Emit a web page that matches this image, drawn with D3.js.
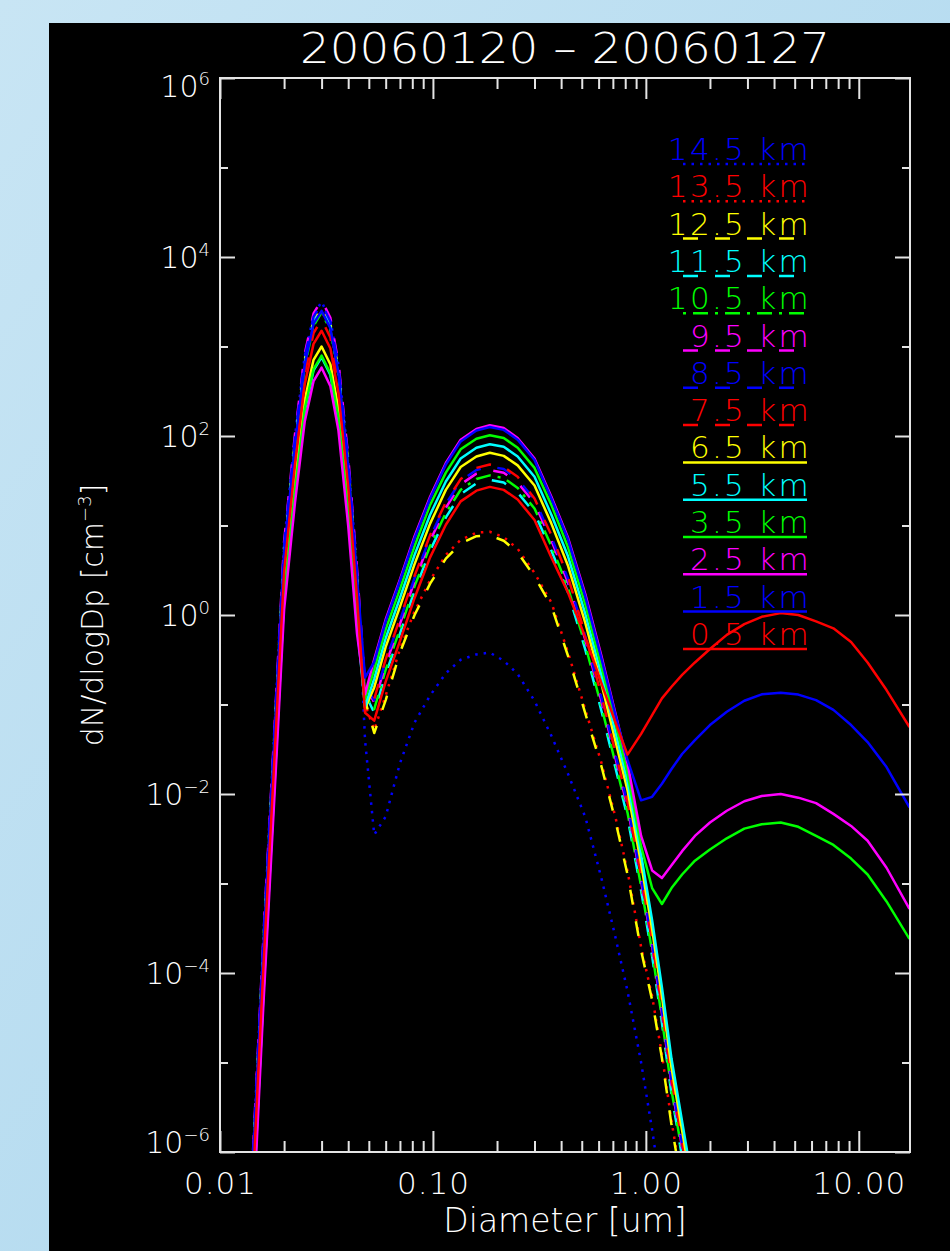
<!DOCTYPE html>
<html>
<head>
<meta charset="utf-8">
<script src="https://cdn.jsdelivr.net/npm/d3@7"></script>
<style>
html, body { margin: 0; padding: 0; background: #bcdff1; }
svg { display: block; }
text { font-family: "DejaVu Sans", sans-serif; font-weight: 200; fill: #fff; }
</style>
</head>
<body>
<div id="chart"></div>
<script>
// diameter bins [um]
const diam = [0.0143, 0.016, 0.018, 0.020, 0.0225, 0.025, 0.0275, 0.030, 0.033, 0.036, 0.040, 0.044, 0.048,
    0.053, 0.060, 0.070, 0.082, 0.097, 0.115, 0.135, 0.16, 0.185, 0.215, 0.25, 0.30, 0.36, 0.43, 0.52, 0.62,
    0.72, 0.82, 0.95, 1.07, 1.19, 1.32, 1.48, 1.7, 2.0, 2.4, 2.9, 3.5, 4.3, 5.2, 6.3, 7.6, 9.2, 11, 13.5, 17.3];

// dN/dlogDp [cm-3] per altitude
const km14_5 = [1.0e-6, 2.5e-4, 0.050, 6.3, 100, 790, 2240, 3160, 2000, 630, 56, 3.2, 0.040, 3.5e-3, 5.6e-3,
    0.022, 0.063, 0.126, 0.224, 0.316, 0.363, 0.38, 0.309, 0.219, 0.110, 0.0447, 0.017, 5.5e-3, 1.12e-3,
    2.5e-4, 6.3e-5, 1.0e-5, 1.78e-6, 3.2e-7];
const km13_5 = [7.9e-7, 2.0e-4, 0.040, 5.0, 79, 630, 1780, 2510, 1580, 500, 45, 2.5, 0.10, 0.052, 0.126,
    0.417, 1.1, 2.45, 4.68, 6.92, 8.32, 8.51, 7.41, 5.5, 2.95, 1.38, 0.389, 0.087, 0.0219, 5.5e-3, 1.38e-3,
    1.95e-4, 5.5e-5, 1.23e-5, 2.2e-6, 4.4e-7];
const km12_5 = [8.9e-7, 2.2e-4, 0.045, 5.6, 89, 710, 2000, 2820, 1780, 560, 50, 2.8, 0.112, 0.048, 0.112,
    0.38, 1.0, 2.24, 4.27, 6.31, 7.59, 7.76, 6.76, 5.01, 2.69, 1.26, 0.355, 0.079, 0.020, 5.0e-3, 1.26e-3,
    1.78e-4, 5.0e-5, 1.12e-5, 2.0e-6, 4.0e-7];
const km11_5 = [8.3e-7, 2.1e-4, 0.042, 5.2, 83, 660, 1860, 2630, 1660, 525, 47, 2.6, 0.132, 0.081, 0.219,
    0.62, 1.86, 5.25, 12.3, 22.4, 29.5, 32.4, 30.2, 23.4, 13.8, 5.25, 1.82, 0.407, 0.083, 0.0195, 5.5e-3,
    8.3e-4, 1.55e-4, 2.75e-5, 4.4e-6, 8.7e-7, 1.2e-7];
const km10_5 = [7.6e-7, 1.9e-4, 0.038, 4.8, 76, 600, 1700, 2400, 1510, 480, 43, 2.4, 0.126, 0.089, 0.245,
    0.69, 2.1, 5.9, 13.8, 25.1, 33.1, 36.3, 33.9, 26.3, 15.5, 5.9, 2.04, 0.457, 0.093, 0.0219, 6.2e-3,
    9.3e-4, 1.74e-4, 3.1e-5, 4.9e-6, 9.8e-7, 1.4e-7];
const km9_5 = [1.05e-6, 2.6e-4, 0.052, 6.6, 105, 830, 2340, 3310, 2090, 660, 59, 3.3, 0.166, 0.105, 0.28,
    0.79, 2.4, 6.8, 15.8, 28.8, 38.0, 41.7, 38.9, 30.2, 17.8, 6.8, 2.34, 0.525, 0.107, 0.0251, 7.1e-3,
    1.07e-3, 2.0e-4, 3.5e-5, 5.6e-6, 1.12e-6, 1.6e-7];
const km8_5 = [9.5e-7, 2.4e-4, 0.048, 6.0, 95, 760, 2140, 3020, 1900, 600, 54, 3.0, 0.158, 0.112, 0.31,
    0.87, 2.6, 7.4, 17.4, 31.6, 41.7, 45.7, 42.7, 33.0, 19.5, 7.4, 2.57, 0.575, 0.117, 0.0275, 7.8e-3,
    1.17e-3, 2.2e-4, 3.9e-5, 6.2e-6, 1.23e-6, 1.7e-7];
const km7_5 = [6.3e-7, 1.6e-4, 0.032, 4.0, 63, 500, 1410, 2000, 1260, 400, 35, 2.0, 0.117, 0.115, 0.32,
    0.91, 2.75, 7.8, 18.2, 33.0, 44.0, 48.0, 45.0, 35.0, 20.0, 7.8, 2.7, 0.60, 0.123, 0.029, 8.1e-3,
    1.23e-3, 2.3e-4, 4.1e-5, 6.5e-6, 1.3e-6, 1.8e-7];
const km6_5 = [3.2e-7, 7.9e-5, 0.016, 2.0, 32, 250, 710, 1000, 630, 200, 18, 1.02, 0.091, 0.155, 0.44,
    1.23, 3.7, 10.5, 25, 45, 59, 65, 60, 47, 28, 10.5, 3.6, 0.81, 0.166, 0.039, 0.011, 1.66e-3, 3.1e-4,
    5.5e-5, 8.7e-6, 1.74e-6, 2.5e-7];
const km5_5 = [2.4e-7, 6.0e-5, 0.012, 1.5, 24, 190, 540, 760, 480, 150, 13.5, 0.78, 0.095, 0.195, 0.55,
    1.55, 4.7, 13.2, 31, 56, 74, 81, 76, 59, 35, 13.2, 4.6, 1.02, 0.21, 0.049, 0.0138, 2.1e-3, 3.9e-4,
    6.9e-5, 1.1e-5, 2.2e-6, 3.1e-7];
const km3_5 = [2.5e-7, 6.3e-5, 0.013, 1.6, 25, 200, 560, 790, 500, 160, 14, 0.83, 0.115, 0.245, 0.69,
    1.95, 5.9, 17, 39, 71, 93, 102, 95, 74, 44, 17, 5.8, 1.3, 0.26, 0.062, 0.017, 2.6e-3, 8.9e-4, 5.9e-4,
    8.9e-4, 1.26e-3, 1.8e-3, 2.4e-3, 3.2e-3, 4.1e-3, 4.6e-3, 4.8e-3, 4.3e-3, 3.4e-3, 2.7e-3, 1.9e-3,
    1.26e-3, 6.3e-4, 2.4e-4];
const km2_5 = [1.8e-7, 4.6e-5, 9.1e-3, 1.15, 18, 145, 410, 580, 360, 115, 10, 0.62, 0.13, 0.32, 0.89,
    2.5, 7.6, 21, 50, 91, 120, 132, 123, 95, 56, 21, 7.4, 1.7, 0.34, 0.079, 0.022, 3.4e-3, 1.4e-3, 1.15e-3,
    1.6e-3, 2.3e-3, 3.4e-3, 4.8e-3, 6.5e-3, 8.3e-3, 9.5e-3, 1.0e-2, 9.1e-3, 7.9e-3, 6.0e-3, 4.4e-3,
    3.0e-3, 1.5e-3, 5.2e-4];
const km1_5 = [7.9e-7, 2.0e-4, 0.040, 5.0, 79, 630, 1800, 2500, 1600, 500, 45, 2.6, 0.20, 0.30, 0.85,
    2.4, 7.2, 20, 48, 87, 115, 126, 117, 91, 54, 20, 7.1, 1.6, 0.32, 0.076, 0.024, 8.5e-3, 9.3e-3, 0.013,
    0.019, 0.028, 0.040, 0.059, 0.083, 0.11, 0.13, 0.135, 0.129, 0.112, 0.087, 0.059, 0.038, 0.020, 7.1e-3];
const km0_5 = [4.8e-7, 1.2e-4, 0.024, 3.0, 48, 380, 1070, 1500, 950, 300, 27, 1.55, 0.081, 0.066, 0.18,
    0.51, 1.55, 4.4, 10.2, 18.6, 24.5, 27, 25, 19.5, 11.5, 4.4, 1.8, 0.56, 0.17, 0.063, 0.0275, 0.047,
    0.076, 0.117, 0.158, 0.214, 0.295, 0.417, 0.60, 0.79, 0.955, 1.05, 1.0, 0.85, 0.71, 0.50, 0.295,
    0.145, 0.056];

const altitudes = ["14.5 km", "13.5 km", "12.5 km", "11.5 km", "10.5 km", "9.5 km", "8.5 km", "7.5 km",
    "6.5 km", "5.5 km", "3.5 km", "2.5 km", "1.5 km", "0.5 km"];
const profiles = [km14_5, km13_5, km12_5, km11_5, km10_5, km9_5, km8_5, km7_5, km6_5, km5_5, km3_5,
    km2_5, km1_5, km0_5];

const xMajor = [0.01, 0.1, 1, 10];
const xMinor = [0.02, 0.03, 0.04, 0.05, 0.06, 0.07, 0.08, 0.09, 0.2, 0.3, 0.4, 0.5, 0.6, 0.7, 0.8, 0.9,
    2, 3, 4, 5, 6, 7, 8, 9];
const yMajor = [1e-6, 1e-4, 1e-2, 1, 1e2, 1e4, 1e6];
const yMinor = [1e-5, 1e-3, 1e-1, 1e1, 1e3, 1e5];

// styles
const colors = ["#0000ff", "#ff0000", "#ffff00", "#00ffff", "#00ff00", "#ff00ff", "#0000ff", "#ff0000",
    "#ffff00", "#00ffff", "#00ff00", "#ff00ff", "#0000ff", "#ff0000"];
const dashes = ["2.5,6", "2.5,6", "15,17", "15,17", "3,7,15,7", "15,17", "15,17", "15,17",
    null, null, null, null, null, null];
const frameColor = "#e4e4e4";

var width = 950, height = 1251;
var plot = {left: 220, right: 910, top: 78, bottom: 1152};

var svg = d3.select("#chart").append("svg")
    .attr("width", width)
    .attr("height", height);

var defs = svg.append("defs");
var sky = defs.append("linearGradient").attr("id", "sky")
    .attr("x1", 0).attr("y1", 0).attr("x2", 1).attr("y2", 1);
sky.append("stop").attr("offset", 0).attr("stop-color", "#c8e5f4");
sky.append("stop").attr("offset", 1).attr("stop-color", "#a9d5ed");

svg.append("rect").attr("width", width).attr("height", height).attr("fill", "url(#sky)");
svg.append("rect").attr("x", 49).attr("y", 23)
    .attr("width", width - 49).attr("height", height - 23)
    .attr("fill", "#000");

var xScale = d3.scaleLog().domain([0.01, 17.4]).range([plot.left, plot.right]);
var yScale = d3.scaleLog().domain([1e-6, 1e6]).range([plot.bottom, plot.top]);

defs.append("clipPath").attr("id", "clip")
    .append("rect")
    .attr("x", plot.left).attr("y", plot.top)
    .attr("width", plot.right - plot.left).attr("height", plot.bottom - plot.top);

// curves
var line = d3.line()
    .x(d => xScale(d[0]))
    .y(d => yScale(d[1]));

var lineG = svg.append("g").attr("clip-path", "url(#clip)");
profiles.forEach(function (vals, i) {
    var pts = vals.map((v, j) => [diam[j], v]);
    lineG.append("path")
        .attr("d", line(pts))
        .attr("fill", "none")
        .attr("stroke", colors[i])
        .attr("stroke-width", 2.5)
        .attr("stroke-linejoin", "round")
        .attr("stroke-dasharray", dashes[i]);
});

// frame + ticks
svg.append("rect")
    .attr("x", plot.left).attr("y", plot.top)
    .attr("width", plot.right - plot.left).attr("height", plot.bottom - plot.top)
    .attr("fill", "none").attr("stroke", frameColor).attr("stroke-width", 2);

function draw(axis, translate) {
    return svg.append("g")
        .attr("transform", translate)
        .call(axis)
        .call(g => g.select(".domain").remove())
        .call(g => g.selectAll("line").attr("stroke", frameColor).attr("stroke-width", 2));
}

draw(d3.axisBottom(xScale).tickValues(xMinor).tickSize(-11).tickFormat(""), `translate(0,${plot.bottom})`);
draw(d3.axisTop(xScale).tickValues(xMinor).tickSize(-11).tickFormat(""), `translate(0,${plot.top})`);
draw(d3.axisTop(xScale).tickValues(xMajor).tickSize(-21).tickFormat(""), `translate(0,${plot.top})`);
var xAx = draw(d3.axisBottom(xScale).tickValues(xMajor).tickSize(-21).tickPadding(20)
    .tickFormat(d3.format(".2f")), `translate(0,${plot.bottom})`);
xAx.attr("font-size", 31).attr("font-family", null);
xAx.selectAll("text").attr("fill", "#fff").attr("letter-spacing", 1);

draw(d3.axisLeft(yScale).tickValues(yMinor).tickSize(-8).tickFormat(""), `translate(${plot.left},0)`);
draw(d3.axisLeft(yScale).tickValues(yMajor).tickSize(-15).tickFormat(""), `translate(${plot.left},0)`);
draw(d3.axisRight(yScale).tickValues(yMinor).tickSize(-8).tickFormat(""), `translate(${plot.right},0)`);
draw(d3.axisRight(yScale).tickValues(yMajor).tickSize(-15).tickFormat(""), `translate(${plot.right},0)`);

// y tick labels as 10^n
yMajor.forEach(function (v, i) {
    var e = Math.round(Math.log10(v));
    var yy = yScale(v) + 11;
    if (i == 0) yy = plot.bottom + 1;
    if (i == yMajor.length - 1) yy = plot.top + 19;
    var t = svg.append("text")
        .attr("x", 210).attr("y", yy)
        .attr("text-anchor", "end")
        .attr("font-size", 30);
    t.append("tspan").text("10");
    t.append("tspan").attr("dy", -12).attr("font-size", 18)
        .text(e < 0 ? "\u2212" + (-e) : String(e));
});

// titles
svg.append("text")
    .attr("x", 565).attr("y", 63)
    .attr("text-anchor", "middle")
    .attr("font-size", 42)
    .attr("textLength", 530)
    .attr("lengthAdjust", "spacingAndGlyphs")
    .text("20060120 \u2013 20060127");

svg.append("text")
    .attr("x", 565).attr("y", 1232)
    .attr("text-anchor", "middle")
    .attr("font-size", 33)
    .text("Diameter [um]");

var yTitle = svg.append("text")
    .attr("transform", "translate(103,615) rotate(-90)")
    .attr("text-anchor", "middle")
    .attr("font-size", 30);
yTitle.append("tspan").text("dN/dlogDp [cm");
yTitle.append("tspan").attr("dy", -12).attr("font-size", 18).text("\u22123");
yTitle.append("tspan").attr("dy", 12).text("]");

// legend
altitudes.forEach(function (lab, i) {
    var by = 160 + i * 37.3;
    svg.append("text")
        .attr("x", 811).attr("y", by)
        .attr("text-anchor", "end")
        .attr("font-size", 31)
        .attr("letter-spacing", 2.3)
        .style("fill", colors[i])
        .text(lab);
    svg.append("line")
        .attr("x1", 683).attr("x2", 807)
        .attr("y1", by + 4).attr("y2", by + 4)
        .attr("stroke", colors[i])
        .attr("stroke-width", 2.5)
        .attr("stroke-dasharray", dashes[i]);
});
</script>
</body>
</html>
